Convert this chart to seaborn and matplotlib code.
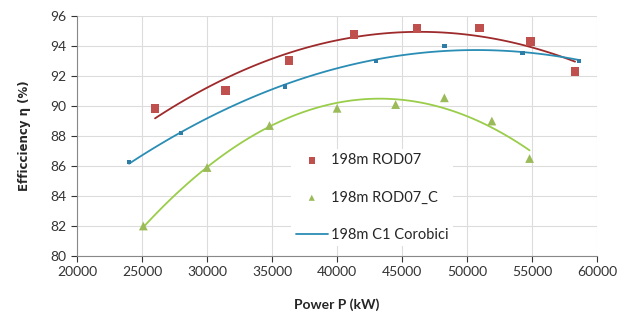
import numpy as np
import pandas as pd
import seaborn as sns
from matplotlib import pyplot as plt

rod07_p = [26000, 31400, 36300, 41300, 46150, 50950, 54900, 58300]
rod07_eta = [89.85, 91.05, 93.05, 94.75, 95.15, 95.2, 94.3, 92.3]

rod07c_p = [25100, 30000, 34800, 40000, 44500, 48250, 51900, 54800]
rod07c_eta = [82.0, 85.9, 88.7, 89.85, 90.1, 90.55, 89.0, 86.5]

c1_p = [24000, 28000, 36000, 43000, 48250, 54250, 58600]
c1_eta = [86.25, 88.2, 91.3, 93.0, 94.0, 93.55, 93.0]

sns.set_style("white")
plt.rcParams['font.family'] = ['Lato', 'DejaVu Sans']

fig, ax = plt.subplots(figsize=(6.26, 3.22), dpi=100)
fig.subplots_adjust(left=0.123, right=0.954, top=0.95, bottom=0.205)

# polynomial trend lines (2nd order), like the spreadsheet trendlines
sns.regplot(x=rod07_p, y=rod07_eta, order=2, ci=None, scatter=False, ax=ax,
            line_kws=dict(color='#9E2A2B', lw=1.3))
sns.regplot(x=rod07c_p, y=rod07c_eta, order=2, ci=None, scatter=False, ax=ax,
            line_kws=dict(color='#9ACD4A', lw=1.3))
sns.regplot(x=c1_p, y=c1_eta, order=2, ci=None, scatter=False, ax=ax,
            label='198m C1 Corobici', line_kws=dict(color='#2A8DB5', lw=1.3))

# data points
sns.scatterplot(x=rod07_p, y=rod07_eta, marker='s', s=40, color='#C0504D',
                edgecolor='none', ax=ax, label='198m ROD07', zorder=3)
sns.scatterplot(x=rod07c_p, y=rod07c_eta, marker='^', s=40, color='#9BBB59',
                edgecolor='none', ax=ax, label='198m ROD07_C', zorder=3)
sns.scatterplot(x=c1_p, y=c1_eta, marker='s', s=10, color='#2E7DA6',
                edgecolor='none', ax=ax, zorder=3)

ax.set_xlim(20000, 60000)
ax.set_ylim(80, 96)
ax.set_xticks(range(20000, 60001, 5000))
ax.set_yticks(range(80, 97, 2))
ax.tick_params(axis='both', labelsize=10, colors='#333333', length=4,
               direction='out', left=True, bottom=True)
ax.grid(True, color='#DCDCDC', lw=0.8)
ax.set_axisbelow(True)
for s in ['top', 'right']:
    ax.spines[s].set_visible(False)
for s in ['left', 'bottom']:
    ax.spines[s].set_color('#888888')

ax.set_xlabel('Power P (kW)', fontsize=10, fontweight='bold', labelpad=14)
ax.set_ylabel('Efficciency η (%)', fontsize=8.5, fontweight='bold',
              family='DejaVu Sans', labelpad=14)

handles, labels = ax.get_legend_handles_labels()
want = ['198m ROD07', '198m ROD07_C', '198m C1 Corobici']
order = [labels.index(l) for l in want if l in labels]
leg = ax.legend([handles[i] for i in order], [labels[i] for i in order],
                loc='lower left', bbox_to_anchor=(0.398, 0.01), frameon=True,
                fontsize=10.5, labelspacing=1.6, handlelength=2.2,
                handletextpad=0.2, markerscale=0.7, borderpad=0.3)
leg.get_frame().set_facecolor('white')
leg.get_frame().set_edgecolor('none')
leg.get_frame().set_alpha(1)

plt.savefig('out.png', dpi=100)
